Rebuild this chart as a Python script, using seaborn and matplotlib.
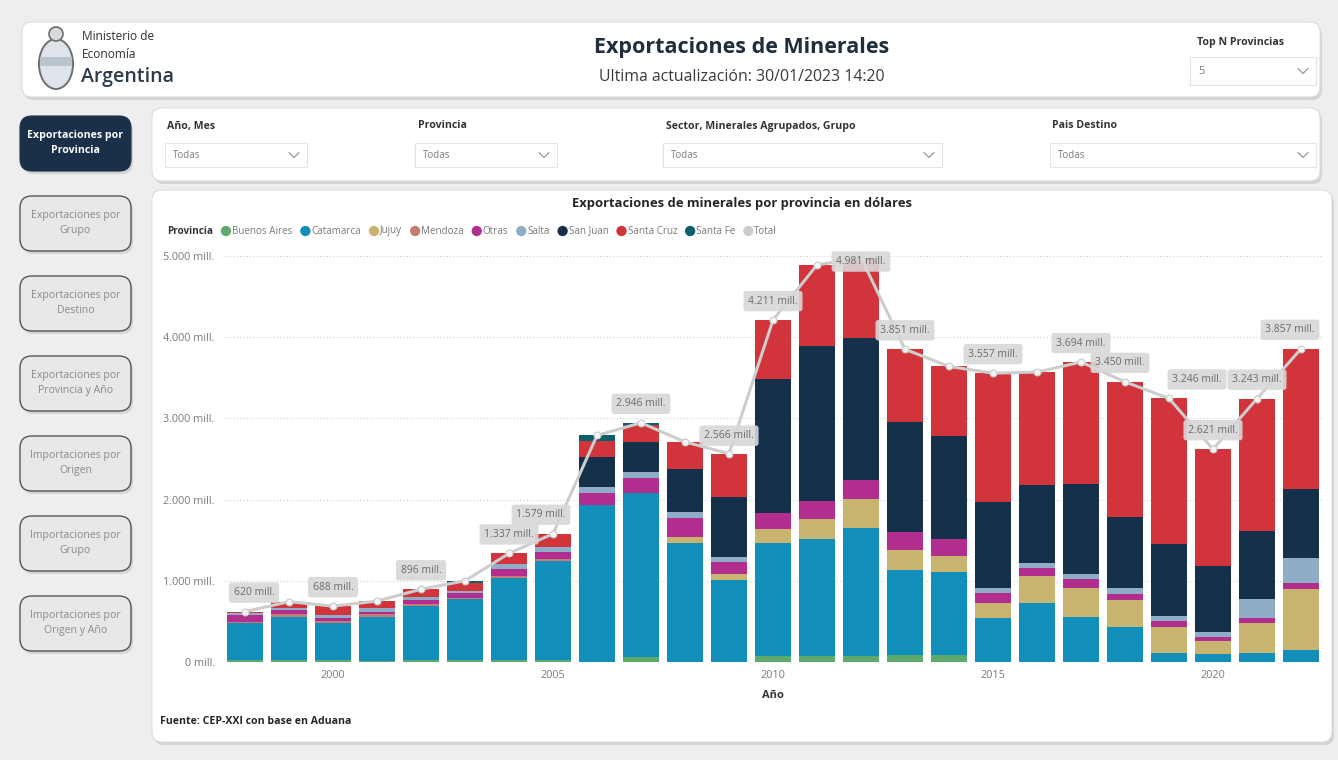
import pandas as pd
import seaborn as sns
import matplotlib.pyplot as plt
from matplotlib.patches import FancyBboxPatch, Ellipse, Circle

anios = list(range(1998, 2023))
provincias = ['Buenos Aires', 'Catamarca', 'Jujuy', 'Mendoza', 'Otras',
              'Salta', 'San Juan', 'Santa Cruz', 'Santa Fe']

buenos_aires = [20, 20, 20, 18, 20, 20, 20, 20, 0, 66, 0, 0, 74, 74, 80,
                86, 86, 0, 0, 0, 0, 0, 0, 0, 0]
catamarca = [456, 538, 456, 540, 670, 752, 1011, 1224, 1933, 2019, 1470,
             1010, 1388, 1437, 1566, 1047, 1026, 538, 723, 558, 435, 107,
             94, 107, 148]
jujuy = [0, 0, 0, 0, 0, 0, 0, 0, 0, 0, 74, 70, 180, 246, 357, 246, 197,
         185, 336, 349, 329, 328, 169, 369, 747]
mendoza = [20, 29, 29, 29, 21, 21, 28, 21, 0, 0, 0, 0, 0, 0, 0, 0, 0, 0,
           0, 0, 0, 0, 0, 0, 0]
otras = [80, 53, 33, 33, 53, 53, 86, 86, 152, 185, 226, 148, 189, 229, 238,
         218, 202, 123, 95, 111, 73, 74, 49, 62, 74]
salta = [25, 29, 41, 41, 40, 32, 62, 69, 74, 74, 82, 69, 0, 0, 0, 0, 0, 69,
         69, 66, 70, 58, 62, 234, 308]
san_juan = [0, 0, 0, 0, 0, 0, 0, 0, 362, 369, 521, 731, 1650, 1906, 1745,
            1363, 1276, 1059, 957, 1108, 883, 886, 808, 845, 850]
santa_cruz = [19, 74, 109, 89, 92, 91, 130, 159, 205, 206, 337, 538, 730,
              998, 995, 891, 853, 1583, 1390, 1502, 1660, 1793, 1439, 1626,
              1730]
santa_fe = [0, 0, 0, 0, 0, 31, 0, 0, 64, 27, 0, 0, 0, 0, 0, 0, 0, 0, 0, 0,
            0, 0, 0, 0, 0]
total = [620, 743, 688, 750, 896, 1000, 1337, 1579, 2790, 2946, 2710, 2566,
         4211, 4890, 4981, 3851, 3640, 3557, 3570, 3694, 3450, 3246, 2621,
         3243, 3857]
anios_con_etiqueta = [1998, 2000, 2002, 2004, 2005, 2007, 2009, 2010, 2012,
                      2013, 2015, 2017, 2018, 2019, 2020, 2021, 2022]

colores = {'Buenos Aires': '#5daa6c', 'Catamarca': '#118fba',
           'Jujuy': '#c9b46f', 'Mendoza': '#c27e72', 'Otras': '#b12e8e',
           'Salta': '#8fadc6', 'San Juan': '#15304b',
           'Santa Cruz': '#d1343a', 'Santa Fe': '#0b5f6c',
           'Total': '#cdcdcd'}

botones = ['Exportaciones por\nProvincia', 'Exportaciones por\nGrupo',
           'Exportaciones por\nDestino', 'Exportaciones por\nProvincia y Año',
           'Importaciones por\nOrigen', 'Importaciones por\nGrupo',
           'Importaciones por\nOrigen y Año']
filtros = ['Año, Mes', 'Provincia', 'Sector, Minerales Agrupados, Grupo',
           'Pais Destino']

FUENTE = ['Open Sans', 'DejaVu Sans']


def panel(ax, x0, y0, x1, y1, fc='white', ec='#dedede', r=10, sombra=True,
          lw=0.8):
    """Dibuja una caja redondeada (en pixeles) con una sombra suave"""
    if sombra:
        ax.add_patch(FancyBboxPatch((x0 + 2, y0 + 3), x1 - x0, y1 - y0,
                                    boxstyle=f'round,pad=0,rounding_size={r}',
                                    fc='#bdbdbd', ec='none', alpha=0.55))
    ax.add_patch(FancyBboxPatch((x0, y0), x1 - x0, y1 - y0,
                                boxstyle=f'round,pad=0,rounding_size={r}',
                                fc=fc, ec=ec, lw=lw))


def chevron(ax, cx, cy):
    ax.plot([cx - 5, cx, cx + 5], [cy - 2.5, cy + 2.5, cy - 2.5],
            color='#8c8c8c', lw=0.8)


def desplegable(ax, x0, x1, yc, texto, h=24, fs=7):
    ax.add_patch(plt.Rectangle((x0, yc - h / 2), x1 - x0, h, fc='white',
                               ec='#e4e4e4', lw=0.8))
    ax.text(x0 + 8, yc, texto, fontsize=fs, color='#7a7a7a', va='center')
    chevron(ax, x1 - 13, yc)


def encabezado(bg):
    panel(bg, 22, 22, 1320, 97)
    # escudo aproximado
    bg.add_patch(Ellipse((56, 64), 34, 50, fc='#dfe4ea', ec='#6e6e6e',
                         lw=1.4))
    bg.add_patch(plt.Rectangle((40, 57), 32, 9, fc='#b9c4cf', ec='none'))
    bg.add_patch(Circle((56, 34), 7, fc='#d9d9d9', ec='#6e6e6e', lw=1.2))
    bg.text(82, 37, 'Ministerio de', fontsize=8.6, color='#2f2f2f',
            va='center')
    bg.text(82, 54, 'Economía', fontsize=8.6, color='#2f2f2f', va='center')
    bg.text(81, 77, 'Argentina', fontsize=14, fontweight='semibold',
            color='#2c3a49', va='center')
    bg.text(742, 48, 'Exportaciones de Minerales', fontsize=15.5,
            fontweight='bold', color='#1f2d3d', ha='center', va='center')
    bg.text(742, 77, 'Ultima actualización: 30/01/2023 14:20', fontsize=11.4,
            color='#3a3a3a', ha='center', va='center')
    bg.text(1197, 42, 'Top N Provincias', fontsize=7.6, fontweight='bold',
            color='#333333', va='center')
    desplegable(bg, 1190, 1316, 71, '5', h=28, fs=8)


def barra_lateral(bg):
    y0 = [116, 196, 276, 356, 436, 516, 596]
    for i, (texto, y) in enumerate(zip(botones, y0)):
        if i == 0:
            panel(bg, 20, y, 131, y + 55, fc='#1a2f48', ec='#1a2f48', r=12)
            bg.text(75.5, y + 27, texto, fontsize=7.6, fontweight='bold',
                    color='white', ha='center', va='center',
                    linespacing=1.5)
        else:
            panel(bg, 20, y, 131, y + 55, fc='#e8e8e8', ec='#555555', r=12,
                  lw=1)
            bg.text(75.5, y + 27, texto, fontsize=7.6, color='#8a8a8a',
                    ha='center', va='center', linespacing=1.5)


def filtros_panel(bg):
    panel(bg, 152, 108, 1320, 181)
    x_lab = [167, 418, 666, 1052]
    x_caja = [(165, 307), (415, 557), (663, 942), (1050, 1316)]
    for texto, xl, (a, b) in zip(filtros, x_lab, x_caja):
        bg.text(xl, 126, texto, fontsize=7.6, fontweight='bold',
                color='#333333', va='center')
        desplegable(bg, a, b, 155, 'Todas')


def leyenda(fig, bg):
    renderer = fig.canvas.get_renderer()
    inv = bg.transData.inverted()
    t = bg.text(167, 231, 'Provincia', fontsize=7.1, fontweight='bold',
                color='#333333', va='center')
    x = inv.transform(t.get_window_extent(renderer).get_points())[1][0]
    for nombre in provincias + ['Total']:
        x += 8
        bg.scatter([x + 5], [231], s=55, color=colores[nombre],
                   edgecolors='none', zorder=3)
        t = bg.text(x + 11, 231, nombre, fontsize=7.1, color='#7a7a7a',
                    va='center')
        x = inv.transform(t.get_window_extent(renderer).get_points())[1][0]


def grafico(fig, bg):
    panel(bg, 152, 190, 1332, 742)
    bg.text(742, 203, 'Exportaciones de minerales por provincia en dólares',
            fontsize=9.4, fontweight='bold', color='#252525', ha='center',
            va='center')
    bg.text(160, 722, 'Fuente: CEP-XXI con base en Aduana', fontsize=7.6,
            fontweight='bold', color='#252525', va='center')
    leyenda(fig, bg)

    escala = 0.0812  # pixeles por millon
    ymax = 5100
    alto = ymax * escala
    ax = fig.add_axes([223 / 1338, (760 - 662) / 760, 1100 / 1338,
                       alto / 760])
    ax.set_facecolor('none')

    datos = pd.DataFrame({'Año': anios, 'Buenos Aires': buenos_aires,
                          'Catamarca': catamarca, 'Jujuy': jujuy,
                          'Mendoza': mendoza, 'Otras': otras, 'Salta': salta,
                          'San Juan': san_juan, 'Santa Cruz': santa_cruz,
                          'Santa Fe': santa_fe})
    acumulado = datos[provincias].cumsum(axis=1)
    # barras apiladas: de la suma total hacia abajo
    for prov in reversed(provincias):
        sns.barplot(x=datos['Año'], y=acumulado[prov], color=colores[prov],
                    saturation=1, width=0.8, native_scale=True, orient='x',
                    errorbar=None, linewidth=0, ax=ax)

    sns.lineplot(x=anios, y=total, color=colores['Total'], linewidth=2.2,
                 marker='o', markersize=5, markerfacecolor='#f4f4f4',
                 markeredgecolor='#c8c8c8', zorder=6, ax=ax)

    dx = {1998: 9, 2005: -12, 2018: -5, 2019: 28, 2022: -11}
    dy = {2012: -4, 2009: 18}
    for anio in anios_con_etiqueta:
        v = total[anios.index(anio)]
        texto = f'{v:,} mill.'.replace(',', '.')
        ax.annotate(texto, (anio, v), xytext=(dx.get(anio, 0),
                                              dy.get(anio, 19)),
                    textcoords='offset pixels', ha='center', va='center',
                    fontsize=7.5, color='#6b6b6b', zorder=7,
                    annotation_clip=False,
                    bbox=dict(boxstyle='round,pad=0.45,rounding_size=0.25',
                              fc='#d8d8d8', ec='none', alpha=0.9))

    ax.set_xlim(1997.5, 2022.5)
    ax.set_ylim(0, ymax)
    ax.set_xticks([2000, 2005, 2010, 2015, 2020])
    ax.set_xticklabels(['2000', '2005', '2010', '2015', '2020'])
    ax.set_yticks(range(0, 6000, 1000))
    ax.set_yticklabels([f'{v:,} mill.'.replace(',', '.')
                        for v in range(0, 6000, 1000)])
    ax.tick_params(axis='both', labelsize=7.8, colors='#7a7a7a', length=0,
                   pad=6)
    ax.grid(axis='y', linestyle=(0, (1, 2)), color='#cfcfcf', linewidth=0.8)
    ax.grid(axis='x', visible=False)
    ax.set_axisbelow(True)
    ax.set_xlabel('Año', fontsize=8, fontweight='bold', color='#333333',
                  labelpad=6)
    ax.set_ylabel('')
    sns.despine(ax=ax, left=True, bottom=True)


def main():
    sns.set_theme(style='white')
    plt.rcParams['font.family'] = FUENTE
    fig = plt.figure(figsize=(13.38, 7.6), dpi=100, facecolor='#eeeeee')
    bg = fig.add_axes([0, 0, 1, 1])
    bg.set_xlim(0, 1338)
    bg.set_ylim(760, 0)
    bg.axis('off')
    encabezado(bg)
    barra_lateral(bg)
    filtros_panel(bg)
    grafico(fig, bg)
    fig.savefig('out.png', dpi=100, facecolor=fig.get_facecolor())


if __name__ == '__main__':
    main()
